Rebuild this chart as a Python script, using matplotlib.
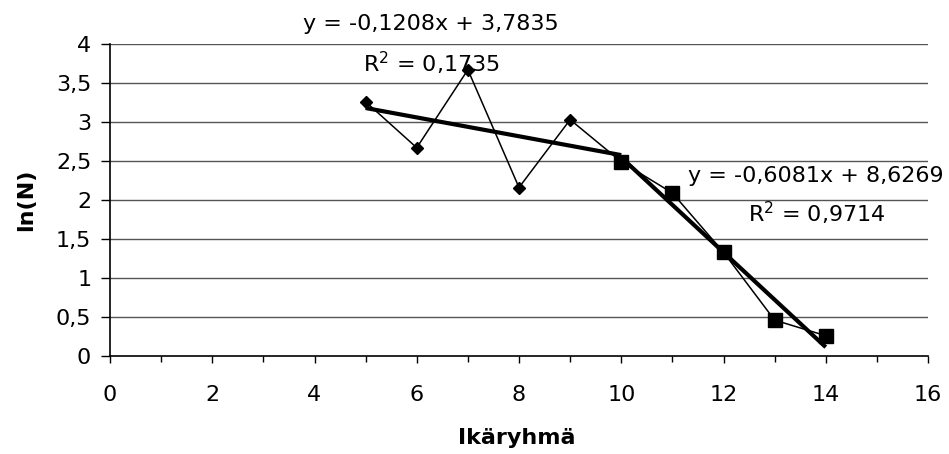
import matplotlib
matplotlib.use("Agg")
import matplotlib.pyplot as plt
import numpy as np
from matplotlib.ticker import MultipleLocator, FuncFormatter

plt.rcParams['font.family'] = ['DejaVu Sans']
plt.rcParams['mathtext.fontset'] = 'dejavusans'

# Age groups and ln(N) for the two phases
age_a = [5, 6, 7, 8, 9, 10]
ln_a = [3.26, 2.67, 3.67, 2.16, 3.03, 2.49]
age_b = [10, 11, 12, 13, 14]
ln_b = [2.49, 2.09, 1.33, 0.46, 0.26]

# Linear trend coefficients (slope, intercept, R^2)
trend_a = (-0.1208, 3.7835, 0.1735)
trend_b = (-0.6081, 8.6269, 0.9714)

x_ticks = list(range(0, 17, 2))
y_ticks = [0, 0.5, 1, 1.5, 2, 2.5, 3, 3.5, 4]

W, H = 949, 454
fig = plt.figure(figsize=(W / 100, H / 100), dpi=100)
ax = fig.add_axes([110 / W, 1 - 356 / H, (928 - 110) / W, (356 - 44) / H])

fs = 16


def comma(v, pos=None):
    return f"{v:g}".replace('.', ',')


def fmt_num(v):
    return f"{abs(v):.4f}".replace('.', ',')


def eq_label(slope, intercept):
    s1 = '-' if slope < 0 else ''
    s2 = '+' if intercept >= 0 else '-'
    return f"y = {s1}{fmt_num(slope)}x {s2} {fmt_num(intercept)}"


def px(x, y):
    return x / W, 1 - y / H


for yv in y_ticks[1:]:
    ax.axhline(yv, color='#555555', lw=1.0, zorder=1)

ax.plot(age_a, ln_a, color='black', lw=1.1, marker='D', ms=6.5, zorder=3)
ax.plot(age_b, ln_b, color='black', lw=1.1, marker='s', ms=9.5, zorder=3)

xa = np.array([age_a[0], age_a[-1]])
ax.plot(xa, trend_a[0] * xa + trend_a[1], color='black', lw=3.0, zorder=4,
        solid_capstyle='butt')
xb = np.array([age_b[0], age_b[-1]])
ax.plot(xb, trend_b[0] * xb + trend_b[1], color='black', lw=3.0, zorder=4,
        solid_capstyle='butt')

ax.set_xlim(0, 16)
ax.set_ylim(0, 4)
ax.set_xticks(x_ticks)
ax.xaxis.set_minor_locator(MultipleLocator(1))
ax.set_yticks(y_ticks)
ax.xaxis.set_major_formatter(FuncFormatter(comma))
ax.yaxis.set_major_formatter(FuncFormatter(comma))
ax.tick_params(axis='both', which='major', labelsize=fs, direction='out',
               width=1.0, color='black')
ax.tick_params(axis='x', which='major', length=5, pad=16)
ax.tick_params(axis='y', which='major', length=6.5, pad=7)
ax.tick_params(axis='x', which='minor', direction='out', length=4, width=1.0)

for side in ('top', 'right'):
    ax.spines[side].set_visible(False)
for side in ('left', 'bottom'):
    ax.spines[side].set_color('black')
    ax.spines[side].set_linewidth(1.2)

fig.text(*px(517, 444), 'Ikäryhmä', fontsize=fs, fontweight='bold',
         ha='center', va='baseline')
fig.text(*px(26, 200), 'ln(N)', fontsize=fs, fontweight='bold',
         ha='center', va='center', rotation=90)

fig.text(*px(303, 30), eq_label(trend_a[0], trend_a[1]), fontsize=fs,
         ha='left', va='baseline')
fig.text(*px(363, 72), f"R$^2$ = {fmt_num(trend_a[2])}", fontsize=fs,
         ha='left', va='baseline')
fig.text(*px(688, 182), eq_label(trend_b[0], trend_b[1]), fontsize=fs,
         ha='left', va='baseline')
fig.text(*px(748, 222), f"R$^2$ = {fmt_num(trend_b[2])}", fontsize=fs,
         ha='left', va='baseline')

fig.savefig('out.png', dpi=100)
